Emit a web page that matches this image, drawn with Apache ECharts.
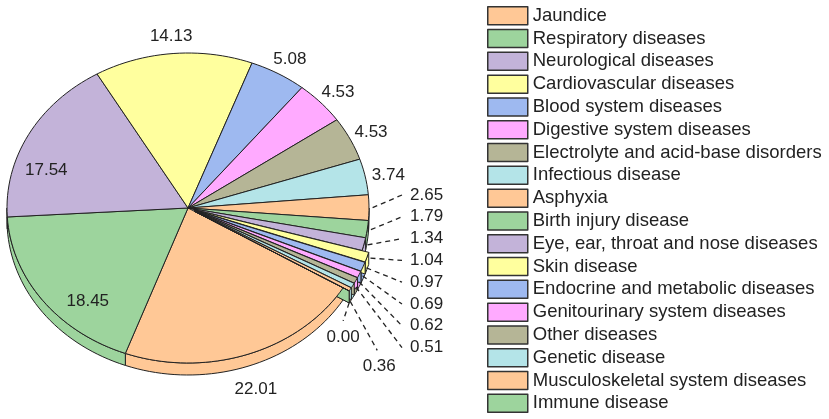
<!DOCTYPE html>
<html>
<head>
<meta charset="utf-8">
<script src="https://cdn.jsdelivr.net/npm/echarts@6/dist/echarts.min.js"></script>
<style>
  html, body { margin: 0; padding: 0; background: #fff; }
  #main { width: 829px; height: 419px; }
</style>
</head>
<body>
<div id="main"></div>
<script>
// slices, in clockwise order starting from Jaundice
const categories = [
  'Jaundice', 'Respiratory diseases', 'Neurological diseases', 'Cardiovascular diseases',
  'Blood system diseases', 'Digestive system diseases', 'Electrolyte and acid-base disorders',
  'Infectious disease', 'Asphyxia', 'Birth injury disease', 'Eye, ear, throat and nose diseases',
  'Skin disease', 'Endocrine and metabolic diseases', 'Genitourinary system diseases',
  'Other diseases', 'Genetic disease', 'Musculoskeletal system diseases', 'Immune disease'
];
const values = [22.01, 18.45, 17.54, 14.13, 5.08, 4.53, 4.53, 3.74, 2.65, 1.79, 1.34, 1.04, 0.97, 0.69, 0.62, 0.51, 0.36, 0.00];
const labels = ['22.01', '18.45', '17.54', '14.13', '5.08', '4.53', '4.53', '3.74', '2.65', '1.79', '1.34', '1.04', '0.97', '0.69', '0.62', '0.51', '0.36', '0.00'];
const palette = ['#FFC896', '#9DD49D', '#C3B3D9', '#FFFF9E', '#9EB9F0', '#FFAAFF', '#B5B596', '#B4E4E8'];
const insideLabels = ['Respiratory diseases', 'Neurological diseases'];

// layout of the tilted pie
const CX = 188, CY = 208, RX = 181, RY = 155, DEPTH = 12, START = 31;
const FAMILY = '"Liberation Sans", Arial, sans-serif';
const FONT = '17px ' + FAMILY;
const INK = '#222';
const belowLeaders = [[27, 49], [-6, 18]];

const total = values.reduce((a, b) => a + b, 0);
const angles = [];
let acc = 0;
values.forEach(v => {
  const a1 = START + acc / total * 360;
  acc += v;
  angles.push([a1, START + acc / total * 360]);
});
// index among the small slices (labelled with leader lines)
const smallIndex = [];
let s = 0;
values.forEach(v => { smallIndex.push(v < 3 ? s++ : -1); });

const rad = d => d * Math.PI / 180;
function pt(deg, k, off, dy) {
  return [CX + off[0] + RX * k * Math.cos(rad(deg)), CY + off[1] + RY * k * Math.sin(rad(deg)) + (dy || 0)];
}
function arc(a1, a2, off, dy) {
  const n = Math.max(2, Math.ceil((a2 - a1) / 2));
  const pts = [];
  for (let j = 0; j <= n; j++) pts.push(pt(a1 + (a2 - a1) * j / n, 1, off, dy));
  return pts;
}

function renderItem(params, api) {
  const i = params.dataIndex;
  const v = api.value(0);
  const [a1, a2] = angles[i];
  const mid = (a1 + a2) / 2;
  const color = palette[i % palette.length];
  const ex = v < 1.1 ? 7 : 0;
  const off = [Math.cos(rad(mid)) * ex, Math.sin(rad(mid)) * ex * RY / RX];
  const face = { fill: color, stroke: INK, lineWidth: 1 };
  const children = [];

  // front side walls (only the part of the rim facing the viewer)
  [[0, 180], [360, 540]].forEach(([lo, hi]) => {
    const b1 = Math.max(a1, lo), b2 = Math.min(a2, hi);
    if (b2 > b1) {
      const top = arc(b1, b2, off, 0);
      const bot = arc(b1, b2, off, DEPTH).reverse();
      children.push({ type: 'polygon', z2: 1, shape: { points: top.concat(bot) }, style: face });
    }
  });
  // cut face of pulled-out slices
  if (ex) {
    const c = [CX + off[0], CY + off[1]];
    const o = pt(a2, 1, off);
    children.push({
      type: 'polygon', z2: 2,
      shape: { points: [c, o, [o[0], o[1] + DEPTH], [c[0], c[1] + DEPTH]] },
      style: face
    });
  }
  // top face
  children.push({
    type: 'polygon', z2: 5,
    shape: { points: [[CX + off[0], CY + off[1]]].concat(arc(a1, a2, off, 0)) },
    style: face
  });

  // value label
  const txt = { text: labels[i], font: FONT, fill: INK, align: 'center', verticalAlign: 'middle' };
  const j = smallIndex[i];
  if (j < 0) {
    let p;
    if (insideLabels.indexOf(categories[i]) >= 0) {
      p = pt(mid - 11, 0.82, off);
    } else {
      p = pt(mid, 1.13, off, Math.sin(rad(mid)) > 0 ? DEPTH + 4 : 3);
    }
    children.push({ type: 'text', z2: 10, x: p[0], y: p[1], style: txt });
  } else if (j < 8) {
    const y = 195 + j * 21.8;
    const p0 = pt(mid, 1.02, off);
    children.push({ type: 'polyline', z2: 10, shape: { points: [p0, [402, y]] }, style: { stroke: INK, lineWidth: 1.3, lineDash: [5, 4] } });
    children.push({ type: 'text', z2: 10, x: 410, y: y, style: Object.assign({}, txt, { align: 'left' }) });
  } else {
    const d = belowLeaders[j - 8];
    const p0 = pt(mid, 1, off, DEPTH);
    const p1 = [p0[0] + d[0], p0[1] + d[1]];
    children.push({ type: 'polyline', z2: 10, shape: { points: [p0, p1] }, style: { stroke: INK, lineWidth: 1.3, lineDash: [5, 4] } });
    children.push({ type: 'text', z2: 10, x: p1[0] + (d[0] > 0 ? 2 : 0), y: p1[1] + 16, style: txt });
  }
  return { type: 'group', children: children };
}

const chart = echarts.init(document.getElementById('main'));
chart.setOption({
  animation: false,
  backgroundColor: '#fff',
  legend: {
    orient: 'vertical',
    left: 487,
    top: 6,
    height: 413,
    padding: 0,
    icon: 'rect',
    itemWidth: 40,
    itemHeight: 18,
    itemGap: 3.3,
    textStyle: { fontFamily: FAMILY, fontSize: 18.5, color: INK, lineHeight: 18 },
    itemStyle: { borderColor: '#333', borderWidth: 1.5 },
    data: categories
  },
  series: [
    {
      // drawn off-canvas; only feeds the legend
      type: 'pie',
      center: [-200, -200],
      radius: [0, 1],
      silent: true,
      label: { show: false },
      labelLine: { show: false },
      data: categories.map((n, i) => ({ name: n, value: values[i], itemStyle: { color: palette[i % palette.length] } }))
    },
    {
      type: 'custom',
      coordinateSystem: 'none',
      silent: true,
      renderItem: renderItem,
      data: values.map(v => [v])
    }
  ]
});
</script>
</body>
</html>
